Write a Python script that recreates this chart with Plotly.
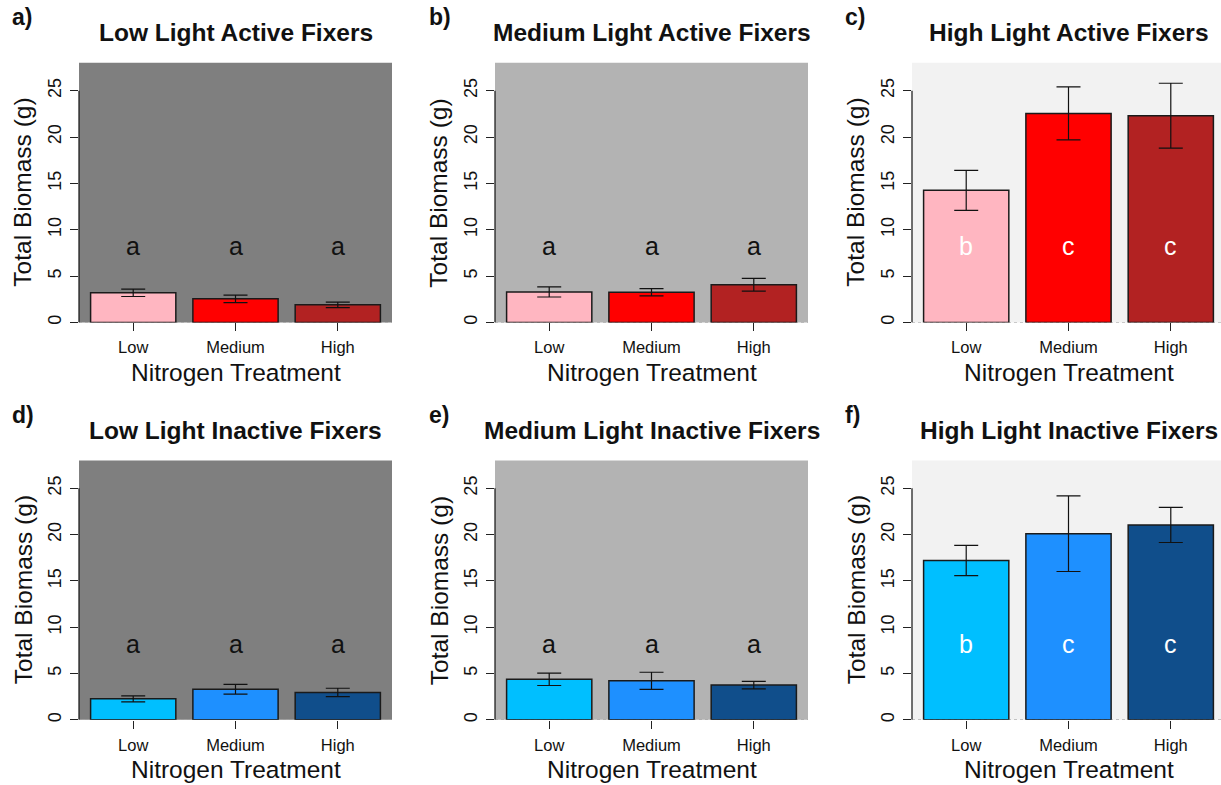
import plotly.graph_objects as go

# ---- data -------------------------------------------------------------
categories = ["Low", "Medium", "High"]

low_light_active = [3.2, 2.55, 1.9]
low_light_active_se = [0.4, 0.4, 0.3]
med_light_active = [3.3, 3.26, 4.07]
med_light_active_se = [0.55, 0.4, 0.68]
high_light_active = [14.25, 22.55, 22.3]
high_light_active_se = [2.15, 2.85, 3.5]

low_light_inactive = [2.27, 3.3, 2.96]
low_light_inactive_se = [0.33, 0.53, 0.45]
med_light_inactive = [4.38, 4.22, 3.75]
med_light_inactive_se = [0.67, 0.92, 0.4]
high_light_inactive = [17.2, 20.1, 21.05]
high_light_inactive_se = [1.63, 4.08, 1.9]

low_light_letters = ["a", "a", "a"]
med_light_letters = ["a", "a", "a"]
high_light_letters = ["b", "c", "c"]

panel_titles = [
    "Low Light Active Fixers", "Medium Light Active Fixers", "High Light Active Fixers",
    "Low Light Inactive Fixers", "Medium Light Inactive Fixers", "High Light Inactive Fixers",
]
panel_tags = ["a)", "b)", "c)", "d)", "e)", "f)"]

# ---- styling ------------------------------------------------------------
W, H = 1221, 785
FONT = "Liberation Sans, Arial, Helvetica, sans-serif"
active_colours = ["#FFB6C1", "#FF0000", "#B22222"]
inactive_colours = ["#00BFFF", "#1E90FF", "#104E8B"]
light_bg = ["#7F7F7F", "#B3B3B3", "#F2F2F2"]   # gray50, gray70, gray95

col_px = [(79, 392), (495, 808), (912, 1225)]
row_px = [(63, 323.3), (461.7, 721.7)]

# barplot geometry: width 1, space 0.2, x-limits padded by 4%
n = len(categories)
bar_left = [0.2 + i * 1.2 for i in range(n)]
centres = [b + 0.5 for b in bar_left]
x_lo, x_hi = bar_left[0], bar_left[-1] + 1
pad = 0.04 * (x_hi - x_lo)
x_min, x_max = x_lo - pad, x_hi + pad
Y_MAX = 28

panels = [
    (low_light_active, low_light_active_se, low_light_letters, active_colours, 0),
    (med_light_active, med_light_active_se, med_light_letters, active_colours, 1),
    (high_light_active, high_light_active_se, high_light_letters, active_colours, 2),
    (low_light_inactive, low_light_inactive_se, low_light_letters, inactive_colours, 0),
    (med_light_inactive, med_light_inactive_se, med_light_letters, inactive_colours, 1),
    (high_light_inactive, high_light_inactive_se, high_light_letters, inactive_colours, 2),
]


def px_x(v):
    return v / W


def px_y(v):
    return 1 - v / H


fig = go.Figure()
shapes, annotations = [], []
layout_axes = {}

for k, (vals, se, letters, colours, light) in enumerate(panels):
    idx = k + 1
    sfx = "" if idx == 1 else str(idx)
    row, col = divmod(k, 3)
    left, right = col_px[col]
    top, bottom = row_px[row]
    right_vis = min(right, W)
    units_per_px = (x_max - x_min) / (right - left)

    fig.add_trace(go.Bar(
        x=centres, y=vals, width=1.0,
        marker=dict(color=colours, line=dict(color="#1a1a1a", width=1.5)),
        error_y=dict(type="data", array=se, visible=True,
                     color="#111111", thickness=1.2, width=12),
        xaxis="x" + sfx, yaxis="y" + sfx, showlegend=False, hoverinfo="skip",
    ))

    layout_axes["xaxis" + sfx] = dict(
        domain=[px_x(left), px_x(right_vis)],
        range=[x_min, x_min + (right_vis - left) * units_per_px],
        anchor="y" + sfx, tickmode="array", tickvals=centres, ticktext=categories,
        ticks="outside", ticklen=8, tickwidth=1, tickcolor="#222222",
        ticklabelstandoff=2,
        showgrid=False, zeroline=False, showline=False, fixedrange=True,
        tickfont=dict(family=FONT, size=16.5, color="#111111"),
    )
    layout_axes["yaxis" + sfx] = dict(
        domain=[px_y(bottom), px_y(top)], range=[0, Y_MAX],
        anchor="x" + sfx, tickmode="array", tickvals=[0, 5, 10, 15, 20, 25],
        ticks="outside", ticklen=8, tickwidth=1, tickcolor="#222222",
        tickangle=-90, ticklabelstandoff=2,
        showgrid=False, zeroline=False, showline=False, fixedrange=True,
        tickfont=dict(family=FONT, size=18, color="#111111"),
    )

    # panel background
    shapes.append(dict(type="rect", xref=f"x{sfx} domain", yref=f"y{sfx} domain",
                       x0=0, x1=1, y0=0, y1=1, fillcolor=light_bg[light],
                       line=dict(width=0), layer="below"))
    # dotted baseline
    shapes.append(dict(type="line", xref=f"x{sfx} domain", yref="y" + sfx,
                       x0=0, x1=1, y0=0, y1=0,
                       line=dict(color="#9A9A9A", width=1.2, dash="dot"), layer="below"))
    # y axis line spanning the tick range
    shapes.append(dict(type="line", xref=f"x{sfx} domain", yref="y" + sfx,
                       x0=0, x1=0, y0=0, y1=25,
                       line=dict(color="#111111", width=1.2)))

    # significance letters
    letter_colour = "white" if light == 2 else "#111111"
    for c, lt in zip(centres, letters):
        annotations.append(dict(x=c, y=8, xref="x" + sfx, yref="y" + sfx, text=lt,
                                showarrow=False, yshift=2,
                                font=dict(family=FONT, size=25, color=letter_colour)))

    cx = (left + right) / 2
    cy = (top + bottom) / 2
    # title
    annotations.append(dict(x=px_x(cx), y=px_y(top - 30), xref="paper", yref="paper",
                            text=panel_titles[k], showarrow=False,
                            xanchor="center", yanchor="middle",
                            font=dict(family=FONT, size=24.5, color="#111111", weight="bold")))
    # panel tag
    tag_x = [10, 427, 843][col]
    annotations.append(dict(x=px_x(tag_x), y=px_y(top - 46), xref="paper", yref="paper",
                            text=panel_tags[k], showarrow=False,
                            xanchor="left", yanchor="middle",
                            font=dict(family=FONT, size=23, color="#111111", weight="bold")))
    # axis titles
    annotations.append(dict(x=px_x(left - 56), y=px_y(cy), xref="paper", yref="paper",
                            text="Total Biomass (g)", showarrow=False, textangle=-90,
                            xanchor="center", yanchor="middle",
                            font=dict(family=FONT, size=24.5, color="#111111")))
    annotations.append(dict(x=px_x(cx), y=px_y(bottom + 50), xref="paper", yref="paper",
                            text="Nitrogen Treatment", showarrow=False,
                            xanchor="center", yanchor="middle",
                            font=dict(family=FONT, size=24.5, color="#111111")))

fig.update_layout(
    width=W, height=H, margin=dict(l=0, r=0, t=0, b=0),
    paper_bgcolor="white", plot_bgcolor="white",
    shapes=shapes, annotations=annotations, barmode="overlay",
    **layout_axes,
)

fig.write_html("out.html", config={"displayModeBar": False})
